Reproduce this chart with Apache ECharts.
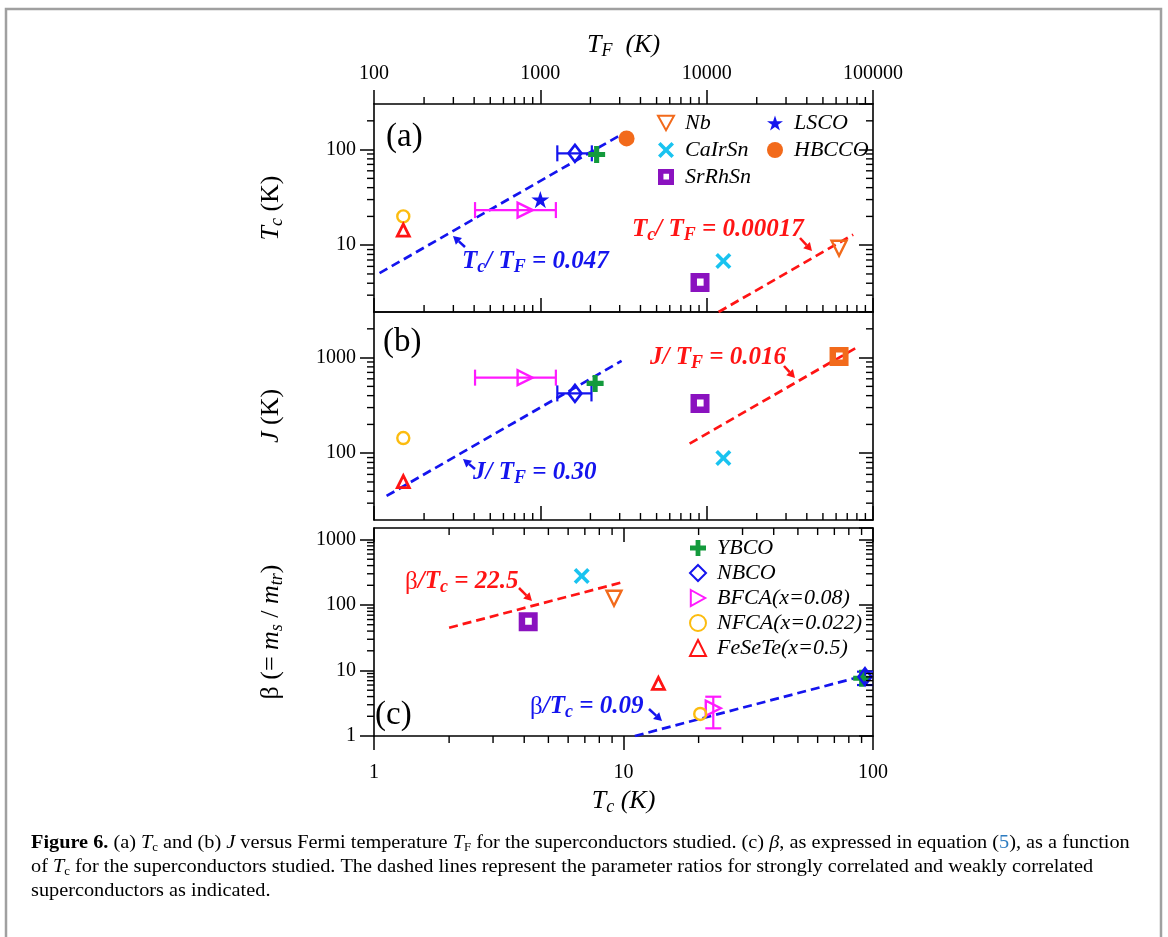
<!DOCTYPE html>
<html>
<head>
<meta charset="utf-8">
<title>Figure 6</title>
<script src="https://cdn.jsdelivr.net/npm/echarts@6/dist/echarts.min.js"></script>
<style>
  html, body { margin: 0; padding: 0; background: #fff; }
  #chart { width: 1168px; height: 937px; }
</style>
</head>
<body>
<div id="chart"></div>
<script>
// ---------- axis ranges and ticks ----------
const tfRange = [100, 100000]
const tcRange = [1, 100]
const tcRangeA = [2, 300]
const jRangeB = [20, 3000]
const betaRangeC = [1, 1500]
const minorMult = [2, 3, 4, 5, 6, 7, 8, 9]

// ---------- panel (a): Tc vs T_F ----------
const namesA = ['Nb', 'CaIrSn', 'SrRhSn', 'LSCO', 'HBCCO', 'YBCO', 'NBCO', 'BFCA(x=0.08)', 'NFCA(x=0.022)', 'FeSeTe(x=0.5)']
const tfA = [62500, 12600, 9120, 1000, 3300, 2180, 1615, 810, 150, 150]
const tcA = [9.3, 6.84, 4.06, 30, 131, 89, 91.4, 23.3, 20, 14.4]
const errNamesA = ['BFCA(x=0.08)', 'NBCO']
const errTfLoA = [405, 1265]
const errTfHiA = [1240, 2040]
const strongLineA = [[108, 5.1], [3200, 150]]     // Tc/TF = 0.047
const weakLineA = [[11800, 2.0], [76000, 12.9]]   // Tc/TF = 0.00017

// ---------- panel (b): J vs T_F ----------
const namesB = ['Nb', 'CaIrSn', 'SrRhSn', 'YBCO', 'NBCO', 'BFCA(x=0.08)', 'NFCA(x=0.022)', 'FeSeTe(x=0.5)']
const tfB = [62500, 12600, 9120, 2135, 1615, 810, 150, 150]
const jB = [1026, 89, 331, 537, 422, 617, 144, 50.5]
const errNamesB = ['BFCA(x=0.08)', 'NBCO']
const errTfLoB = [405, 1265]
const errTfHiB = [1240, 2030]
const strongLineB = [[119, 35.7], [3080, 924]]    // J/TF = 0.30
const weakLineB = [[7900, 126], [81600, 1306]]    // J/TF = 0.016

// ---------- panel (c): beta vs Tc ----------
const namesC = ['Nb', 'CaIrSn', 'SrRhSn', 'YBCO', 'NBCO', 'BFCA(x=0.08)', 'NFCA(x=0.022)', 'FeSeTe(x=0.5)']
const tcC = [9.16, 6.8, 4.15, 90.1, 92.9, 22.9, 20.3, 13.8]
const betaC = [127, 277, 55.7, 7.6, 8.05, 2.65, 2.17, 6.38]
const errNamesC = ['BFCA(x=0.08)', 'NBCO']
const errBetaLoC = [1.31, 6.0]
const errBetaHiC = [3.98, 9.6]
const strongLineC = [[11.1, 1.0], [93, 8.4]]      // beta/Tc = 0.09
const weakLineC = [[2, 45], [10, 225]]            // beta/Tc = 22.5

// ---------- styles ----------
const F = 'Liberation Serif'
const BLUE = '#1414ee'
const RED = '#ff1414'
const ORANGE = '#f26a1b'
const PLUS = 'path://M3.5,0H6.5V3.5H10V6.5H6.5V10H3.5V6.5H0V3.5H3.5Z'
const CROSS = 'path://M0,1.6L1.6,0L5,3.4L8.4,0L10,1.6L6.6,5L10,8.4L8.4,10L5,6.6L1.6,10L0,8.4L3.4,5Z'
const STAR = 'path://M50,0L61.2,34.5L97.6,34.5L68.2,55.9L79.4,90.5L50,69.1L20.6,90.5L31.8,55.9L2.4,34.5L38.8,34.5Z'
const SQHOLE = 'path://M0,0H10V10H0Z M3.4,2.9V6.6H6.9V2.9Z'
const TRI_DOWN = 'path://M0,0H10L5,9Z'
const TRI_RIGHT = 'path://M0,0L9,5L0,10Z'

const markerStyle = {
  'Nb': { symbol: 'triangle', size: 15, rotate: 180, stroke: ORANGE },
  'CaIrSn': { symbol: CROSS, size: 16, fill: '#19c3f0' },
  'SrRhSn': { symbol: SQHOLE, size: 19, fill: '#8a12bf' },
  'LSCO': { symbol: STAR, size: 18, fill: BLUE },
  'HBCCO': { symbol: 'circle', size: 16, fill: ORANGE },
  'YBCO': { symbol: PLUS, size: 17, fill: '#139a3c' },
  'NBCO': { symbol: 'diamond', size: [13, 17], stroke: BLUE, bw: 2.6 },
  'BFCA(x=0.08)': { symbol: 'triangle', size: 15, rotate: -90, stroke: '#ff19ff' },
  'NFCA(x=0.022)': { symbol: 'circle', size: 12, stroke: '#fcbc0f' },
  'FeSeTe(x=0.5)': { symbol: 'triangle', size: 12, stroke: RED, bw: 2.8 }
}
const errColor = { 'BFCA(x=0.08)': '#ff19ff', 'NBCO': BLUE }

function scatterSeries (names, xs, ys, xi, yi, override) {
  return names.map(function (n, k) {
    const st = Object.assign({}, markerStyle[n], (override || {})[n])
    return {
      type: 'scatter',
      name: n,
      xAxisIndex: xi,
      yAxisIndex: yi,
      data: [[xs[k], ys[k]]],
      symbol: st.symbol,
      symbolSize: st.size,
      symbolRotate: st.rotate || 0,
      symbolKeepAspect: true,
      itemStyle: st.stroke
        ? { color: 'transparent', borderColor: st.stroke, borderWidth: st.bw || 2.4, opacity: 1 }
        : { color: st.fill, opacity: 1 },
      z: 6,
      silent: true
    }
  })
}

function errorSeries (names, xs, ys, lo, hi, xi, yi, horizontal) {
  return names.map(function (n, k) {
    return {
      type: 'custom',
      xAxisIndex: xi,
      yAxisIndex: yi,
      silent: true,
      clip: false,
      z: 5,
      data: [[xs[k], ys[k], lo[k], hi[k]]],
      renderItem: function (params, api) {
        const x = api.value(0)
        const y = api.value(1)
        const a = horizontal ? api.coord([api.value(2), y]) : api.coord([x, api.value(2)])
        const b = horizontal ? api.coord([api.value(3), y]) : api.coord([x, api.value(3)])
        const cap = 8
        const style = { stroke: errColor[n], lineWidth: 2.2 }
        const segs = [{ type: 'line', shape: { x1: a[0], y1: a[1], x2: b[0], y2: b[1] }, style }]
        ;[a, b].forEach(function (p) {
          segs.push(horizontal
            ? { type: 'line', shape: { x1: p[0], y1: p[1] - cap, x2: p[0], y2: p[1] + cap }, style }
            : { type: 'line', shape: { x1: p[0] - cap, y1: p[1], x2: p[0] + cap, y2: p[1] }, style })
        })
        return { type: 'group', children: segs }
      }
    }
  })
}

function ratioLine (pts, color, xi, yi) {
  return {
    type: 'line',
    xAxisIndex: xi,
    yAxisIndex: yi,
    data: pts,
    showSymbol: false,
    silent: true,
    z: 4,
    lineStyle: { color: color, width: 2.7, type: [9, 5] }
  }
}

function minorValues (lo, hi) {
  const out = []
  for (let d = Math.floor(Math.log10(lo)); d <= Math.ceil(Math.log10(hi)); d++) {
    minorMult.forEach(function (m) {
      const v = m * Math.pow(10, d)
      if (v > lo * 1.0001 && v < hi * 0.9999) out.push(v)
    })
  }
  return out
}

// log minor ticks at 2..9 x 10^n, drawn through the axes' own scales
function minorTickSeries (xi, yi, xr, yr, sides) {
  const xs = minorValues(xr[0], xr[1])
  const ys = minorValues(yr[0], yr[1])
  return {
    type: 'custom',
    xAxisIndex: xi,
    yAxisIndex: yi,
    silent: true,
    clip: false,
    z: 10,
    data: [[xr[0], yr[0]]],
    renderItem: function (params, api) {
      const cs = params.coordSys
      const L = cs.x
      const R = cs.x + cs.width
      const T = cs.y
      const B = cs.y + cs.height
      const len = 7
      const segs = []
      const add = function (x1, y1, x2, y2) {
        segs.push({ type: 'line', shape: { x1, y1, x2, y2 }, style: { stroke: '#000', lineWidth: 1.4 } })
      }
      xs.forEach(function (v) {
        const px = api.coord([v, yr[0]])[0]
        if (sides.top) add(px, T, px, sides.top === 'in' ? T + len : T - len)
        if (sides.bottom) add(px, B, px, sides.bottom === 'in' ? B - len : B + len)
      })
      ys.forEach(function (v) {
        const py = api.coord([xr[0], v])[1]
        if (sides.left) add(L, py, sides.left === 'in' ? L + len : L - len, py)
        if (sides.right) add(R, py, sides.right === 'in' ? R - len : R + len, py)
      })
      return { type: 'group', children: segs }
    }
  }
}

const titleRich = {
  i: { fontFamily: F, fontSize: 26, fontStyle: 'italic', color: '#000', lineHeight: 30 },
  r: { fontFamily: F, fontSize: 26, color: '#000', lineHeight: 30 },
  s: { fontFamily: F, fontSize: 18, fontStyle: 'italic', color: '#000', lineHeight: 14, verticalAlign: 'bottom' }
}

function logAxis (o) {
  return Object.assign({
    type: 'log',
    logBase: 10,
    axisLine: { show: true, onZero: false, lineStyle: { color: '#000', width: 1.6 } },
    axisTick: { show: true, inside: !!o.tickIn, length: 14, lineStyle: { color: '#000', width: 1.5 } },
    axisLabel: o.labels
      ? {
          show: true,
          fontFamily: F,
          fontSize: 20,
          color: '#000',
          margin: o.labelMargin,
          showMinLabel: o.showMin !== false,
          showMaxLabel: o.showMax !== false,
          formatter: function (v) { return String(v) }
        }
      : { show: false },
    splitLine: { show: false },
    nameTextStyle: { rich: titleRich }
  }, o.extra)
}

const xAxes = [
  logAxis({ labels: true, labelMargin: 20, extra: { gridIndex: 0, position: 'top', min: tfRange[0], max: tfRange[1], name: '{i|T}{s|F}{i|  (K)}', nameLocation: 'middle', nameGap: 44 } }),
  logAxis({ tickIn: true, extra: { gridIndex: 0, position: 'bottom', min: tfRange[0], max: tfRange[1] } }),
  logAxis({ extra: { gridIndex: 1, position: 'top', min: tfRange[0], max: tfRange[1], axisTick: { show: false } } }),
  logAxis({ tickIn: true, extra: { gridIndex: 1, position: 'bottom', min: tfRange[0], max: tfRange[1] } }),
  logAxis({ tickIn: true, extra: { gridIndex: 2, position: 'top', min: tcRange[0], max: tcRange[1] } }),
  logAxis({ labels: true, labelMargin: 27, extra: { gridIndex: 2, position: 'bottom', min: tcRange[0], max: tcRange[1], name: '{i|T}{s|c}{i| (K)}', nameLocation: 'middle', nameGap: 50 } })
]

const yAxes = [
  logAxis({ labels: true, labelMargin: 18, showMin: false, showMax: false, extra: { gridIndex: 0, position: 'left', min: tcRangeA[0], max: tcRangeA[1], name: '{i|T}{s|c}{r| (K)}', nameLocation: 'middle', nameGap: 88 } }),
  logAxis({ tickIn: true, extra: { gridIndex: 0, position: 'right', min: tcRangeA[0], max: tcRangeA[1] } }),
  logAxis({ labels: true, labelMargin: 18, showMin: false, showMax: false, extra: { gridIndex: 1, position: 'left', min: jRangeB[0], max: jRangeB[1], name: '{i|J}{r| (K)}', nameLocation: 'middle', nameGap: 88 } }),
  logAxis({ tickIn: true, extra: { gridIndex: 1, position: 'right', min: jRangeB[0], max: jRangeB[1] } }),
  logAxis({ labels: true, labelMargin: 18, showMax: false, extra: { gridIndex: 2, position: 'left', min: betaRangeC[0], max: betaRangeC[1], name: '{r|β (= }{i|m}{s|s}{r| / }{i|m}{s|tr}{r|)}', nameLocation: 'middle', nameGap: 88 } }),
  logAxis({ tickIn: true, extra: { gridIndex: 2, position: 'right', min: betaRangeC[0], max: betaRangeC[1] } })
]

const series = [].concat(
  minorTickSeries(0, 0, tfRange, tcRangeA, { top: 'out', bottom: 'in', left: 'out', right: 'in' }),
  minorTickSeries(3, 2, tfRange, jRangeB, { bottom: 'in', left: 'out', right: 'in' }),
  minorTickSeries(5, 4, tcRange, betaRangeC, { top: 'in', bottom: 'out', left: 'out', right: 'in' }),
  ratioLine(strongLineA, BLUE, 0, 0),
  ratioLine(weakLineA, RED, 0, 0),
  ratioLine(strongLineB, BLUE, 3, 2),
  ratioLine(weakLineB, RED, 3, 2),
  ratioLine(strongLineC, BLUE, 5, 4),
  ratioLine(weakLineC, RED, 5, 4),
  errorSeries(errNamesA, errNamesA.map(function (n) { return tfA[namesA.indexOf(n)] }), errNamesA.map(function (n) { return tcA[namesA.indexOf(n)] }), errTfLoA, errTfHiA, 0, 0, true),
  errorSeries(errNamesB, errNamesB.map(function (n) { return tfB[namesB.indexOf(n)] }), errNamesB.map(function (n) { return jB[namesB.indexOf(n)] }), errTfLoB, errTfHiB, 3, 2, true),
  errorSeries(errNamesC, errNamesC.map(function (n) { return tcC[namesC.indexOf(n)] }), errNamesC.map(function (n) { return betaC[namesC.indexOf(n)] }), errBetaLoC, errBetaHiC, 5, 4, false),
  scatterSeries(namesA, tfA, tcA, 0, 0),
  scatterSeries(namesB, tfB, jB, 3, 2, { 'Nb': { symbol: SQHOLE, size: 19, fill: ORANGE, stroke: null, rotate: 0 } }),
  scatterSeries(namesC, tcC, betaC, 5, 4)
)

const legendBase = {
  orient: 'vertical',
  padding: 0,
  itemWidth: 16,
  itemHeight: 16,
  selectedMode: false,
  textStyle: { fontFamily: F, fontStyle: 'italic', fontSize: 22, color: '#000', padding: [0, 0, 0, 6] }
}

// ---------- annotations ----------
function ratioLabel (x, y, text, color) {
  return {
    type: 'text',
    x: x,
    y: y,
    silent: true,
    style: {
      text: text,
      fill: color,
      verticalAlign: 'middle',
      rich: {
        t: { fontFamily: F, fontSize: 25, fontWeight: 'bold', fontStyle: 'italic', fill: color, lineHeight: 28 },
        s: { fontFamily: F, fontSize: 18, fontWeight: 'bold', fontStyle: 'italic', fill: color, lineHeight: 12, verticalAlign: 'bottom' },
        g: { fontFamily: F, fontSize: 25, fill: color, lineHeight: 28 }
      }
    }
  }
}

function arrow (x1, y1, x2, y2, color) {
  const ang = Math.atan2(y2 - y1, x2 - x1)
  const hl = 8
  const hw = 4.5
  const bx = x2 - hl * Math.cos(ang)
  const by = y2 - hl * Math.sin(ang)
  return [
    { type: 'line', silent: true, shape: { x1: x1, y1: y1, x2: bx, y2: by }, style: { stroke: color, lineWidth: 2.5 } },
    { type: 'polygon', silent: true, shape: { points: [[x2, y2], [bx - hw * Math.sin(ang), by + hw * Math.cos(ang)], [bx + hw * Math.sin(ang), by - hw * Math.cos(ang)]] }, style: { fill: color } }
  ]
}

function panelLabel (x, y, text) {
  return { type: 'text', x: x, y: y, silent: true, style: { text: text, fill: '#000', font: '33px "' + F + '"', verticalAlign: 'middle' } }
}

// ---------- caption ----------
const capSize = 19
const capLines = [
  '{b|Figure 6.} (a) {i|T}{s|c} and (b) {i|J} versus Fermi temperature {i|T}{s|F} for the superconductors studied. (c) {i|β}, as expressed in equation ({l|5}), as a function',
  'of {i|T}{s|c} for the superconductors studied. The dashed lines represent the parameter ratios for strongly correlated and weakly correlated',
  'superconductors as indicated.'
]
const capPlain = 'Figure 6. (a) Tc and (b) J versus Fermi temperature TF for the superconductors studied. (c) β, as expressed in equation (5), as a function'
const ctx = document.createElement('canvas').getContext('2d')
ctx.font = capSize + 'px "' + F + '"'
const capScale = 1102 / ctx.measureText(capPlain).width

const capRich = {
  b: { fontFamily: F, fontSize: capSize, fontWeight: 'bold', fill: '#000', lineHeight: 22 },
  i: { fontFamily: F, fontSize: capSize, fontStyle: 'italic', fill: '#000', lineHeight: 22 },
  s: { fontFamily: F, fontSize: 12, fill: '#000', lineHeight: 10, verticalAlign: 'bottom' },
  l: { fontFamily: F, fontSize: capSize, fill: '#2c7bc0', lineHeight: 22 }
}

const graphics = [].concat(
  [{ type: 'rect', silent: true, shape: { x: 6, y: 9, width: 1155, height: 945 }, style: { fill: 'none', stroke: '#a0a0a0', lineWidth: 2.5 } }],
  [panelLabel(386, 137, '(a)'), panelLabel(383, 342, '(b)'), panelLabel(375, 715, '(c)')],
  [
    ratioLabel(462, 262, '{t|T}{s|c}{t|/ T}{s|F}{t| = 0.047}', BLUE),
    ratioLabel(632, 230, '{t|T}{s|c}{t|/ T}{s|F}{t| = 0.00017}', RED),
    ratioLabel(473, 473, '{t|J/ T}{s|F}{t| = 0.30}', BLUE),
    ratioLabel(650, 358, '{t|J/ T}{s|F}{t| = 0.016}', RED),
    ratioLabel(405, 582, '{g|β}{t|/T}{s|c}{t| = 22.5}', RED),
    ratioLabel(530, 707, '{g|β}{t|/T}{s|c}{t| = 0.09}', BLUE)
  ],
  arrow(465, 247, 453, 236, BLUE),
  arrow(800, 238, 812, 251, RED),
  arrow(475, 469, 463, 459, BLUE),
  arrow(784, 366, 795, 378, RED),
  arrow(519, 588, 532, 601, RED),
  arrow(649, 709, 662, 721, BLUE),
  capLines.map(function (t, k) {
    return {
      type: 'text',
      x: 31,
      y: 843 + k * 24,
      scaleX: capScale,
      silent: true,
      style: { text: t, font: capSize + 'px "' + F + '"', fill: '#000', verticalAlign: 'middle', rich: capRich }
    }
  })
)

const chart = echarts.init(document.getElementById('chart'))
chart.setOption({
  animation: false,
  backgroundColor: '#fff',
  grid: [
    { left: 374, top: 104, width: 499, height: 208 },
    { left: 374, top: 312, width: 499, height: 208 },
    { left: 374, top: 528, width: 499, height: 208 }
  ],
  xAxis: xAxes,
  yAxis: yAxes,
  legend: [
    Object.assign({}, legendBase, { data: [{ name: 'Nb', icon: TRI_DOWN }, 'CaIrSn', 'SrRhSn'], left: 657, top: 112, itemGap: 5 }),
    Object.assign({}, legendBase, { data: ['LSCO', 'HBCCO'], left: 767, top: 112, itemGap: 5 }),
    Object.assign({}, legendBase, { data: ['YBCO', 'NBCO', { name: 'BFCA(x=0.08)', icon: TRI_RIGHT }, 'NFCA(x=0.022)', 'FeSeTe(x=0.5)'], left: 689, top: 537, itemGap: 3 })
  ],
  series: series,
  graphic: { elements: graphics }
})
</script>
</body>
</html>
